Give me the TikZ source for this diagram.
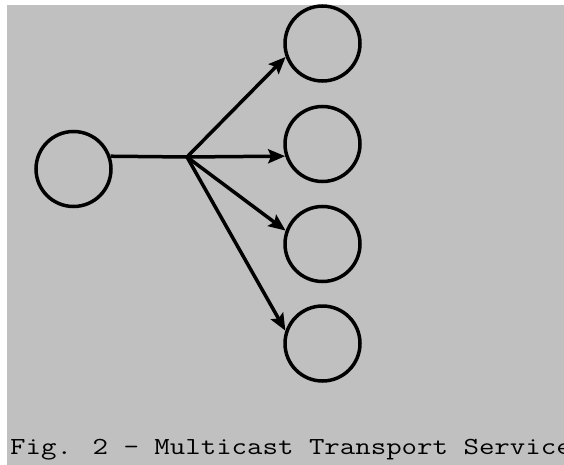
\documentclass[tikz,border=0pt]{standalone}
\usepackage{fontspec}
\usetikzlibrary{arrows.meta}
\definecolor{bggray}{HTML}{C0C0C0}
\begin{document}
\begin{tikzpicture}[x=1pt,y=-1pt,
  ring/.style={circle,draw=black,line width=3.5pt,inner sep=0pt,minimum size=75pt},
  link/.style={line width=3.5pt,-{Stealth[length=17pt,width=14pt,inset=3pt]}},
  plain/.style={line width=3.5pt}]
\useasboundingbox (0,0) rectangle (564,465);
\begin{scope}
\clip (0,0) rectangle (564,465);
\fill[white] (0,0) rectangle (564,465);
\fill[bggray] (7,5) rectangle (564,465);
\node[ring] (src) at (73.5,169) {};
\node[ring] (c1) at (322.5,43.5) {};
\node[ring] (c2) at (322.5,144) {};
\node[ring] (c3) at (322.5,244) {};
\node[ring] (c4) at (322.5,343.5) {};
\coordinate (j) at (187,157);
\draw[plain] (src.19) -- (j);
\draw[link] (j) -- (c1.200);
\draw[link] (j) -- (c2.198);
\draw[link] (j) -- (c3.160);
\draw[link] (j) -- (c4.161);
\node[anchor=base west,inner sep=0pt] (cap) at (10,454)
  {\scalebox{1.225}[1]{\ttfamily\fontsize{24.5}{24.5}\selectfont Fig. 2 - Multicast Transport Service}};
\end{scope}
\end{tikzpicture}
\end{document}
